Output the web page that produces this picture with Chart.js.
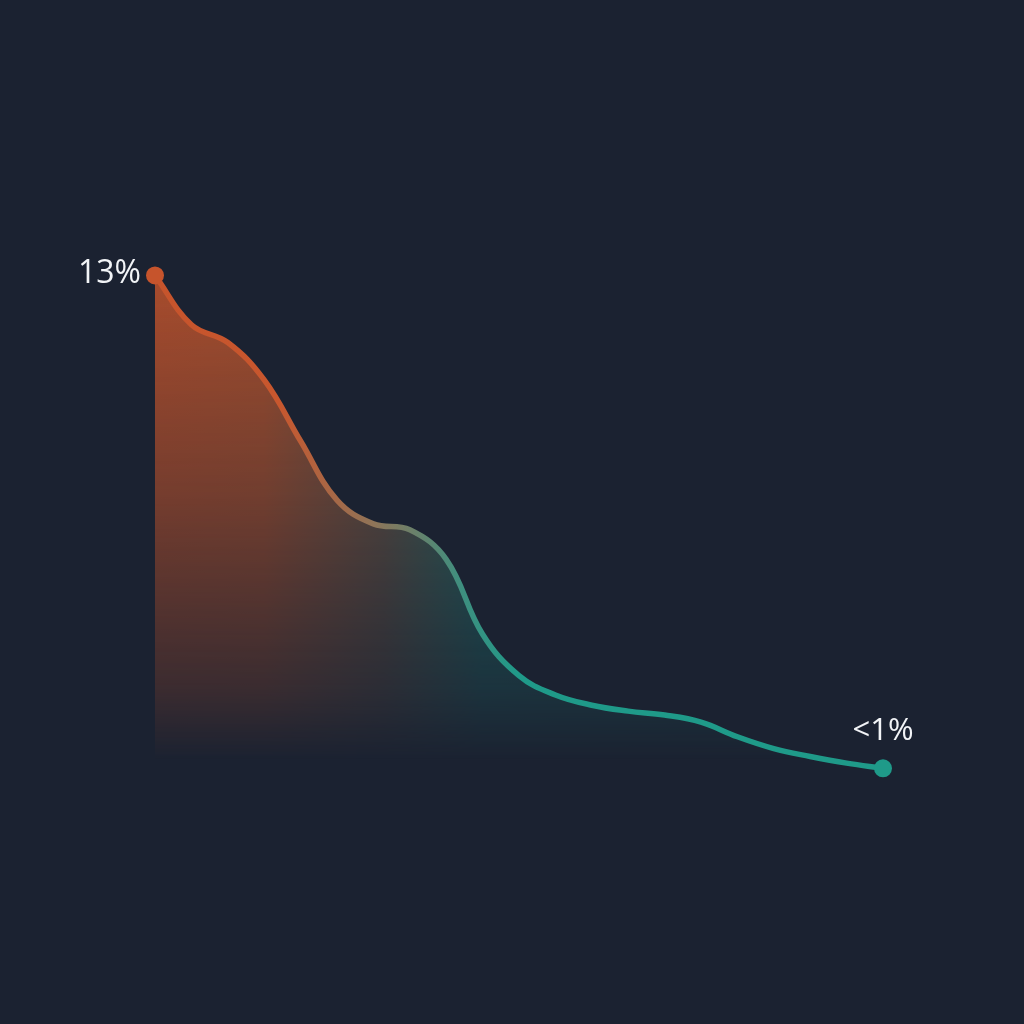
<!DOCTYPE html>
<html>
<head>
<meta charset="utf-8">
<script src="https://cdn.jsdelivr.net/npm/chart.js@4/dist/chart.umd.min.js"></script>
<style>
  html, body { margin: 0; padding: 0; background: #1b2231; }
  #wrap { width: 1024px; height: 1024px; }
</style>
</head>
<body>
<div id="wrap"><canvas id="decline" width="1024" height="1024"></canvas></div>
<script>
// Share over time (%)
const steps = [0, 1, 2, 3, 4, 5, 6, 7, 8, 9, 10, 11, 12, 13, 14, 15, 16, 17, 18, 19, 20];
const shareValues = [13, 11.75, 11.3, 10.35, 8.8, 7.3, 6.7, 6.55, 5.8, 3.9, 2.85, 2.36, 2.1, 1.95, 1.85, 1.67, 1.3, 1.0, 0.8, 0.63, 0.5];
const endLabels = ['13%', '<1%'];

const orange = '#c6542c';
const teal = '#1f9a89';

// fill: horizontal orange -> teal, faded out towards the bottom
function buildFillPattern(ctx) {
    const off = document.createElement('canvas');
    off.width = 1024;
    off.height = 1024;
    const o = off.getContext('2d');
    const h = o.createLinearGradient(155, 0, 700, 0);
    h.addColorStop(0, '#c0532c');
    h.addColorStop(0.2, '#b8552e');
    h.addColorStop(0.42, '#6f5a48');
    h.addColorStop(0.6, '#1f7a72');
    h.addColorStop(1, '#1c6f6a');
    o.fillStyle = h;
    o.fillRect(0, 0, 1024, 1024);
    o.globalCompositeOperation = 'destination-in';
    const v = o.createLinearGradient(0, 280, 0, 760);
    v.addColorStop(0, 'rgba(0,0,0,0.85)');
    v.addColorStop(0.45, 'rgba(0,0,0,0.55)');
    v.addColorStop(0.85, 'rgba(0,0,0,0.2)');
    v.addColorStop(1, 'rgba(0,0,0,0)');
    o.fillStyle = v;
    o.fillRect(0, 0, 1024, 1024);
    return ctx.createPattern(off, 'no-repeat');
}

function buildLineGradient(ctx) {
    const g = ctx.createLinearGradient(155, 0, 883, 0);
    g.addColorStop(0, orange);
    g.addColorStop(0.17, '#c8572e');
    g.addColorStop(0.3, '#8f7458');
    g.addColorStop(0.42, '#3f8f7f');
    g.addColorStop(0.5, teal);
    g.addColorStop(1, teal);
    return g;
}

// draws the two end labels next to the first and last point
const endLabelPlugin = {
    id: 'endLabels',
    afterDatasetsDraw(chart) {
        const ctx = chart.ctx;
        const pts = chart.getDatasetMeta(0).data;
        const first = pts[0];
        const last = pts[pts.length - 1];
        ctx.save();
        ctx.fillStyle = '#f2f4f7';
        ctx.font = '400 32px "Open Sans"';
        ctx.textBaseline = 'middle';
        ctx.textAlign = 'right';
        ctx.fillText(endLabels[0], first.x - 14, first.y - 2);
        ctx.font = '400 31px "Open Sans"';
        ctx.textAlign = 'center';
        ctx.textBaseline = 'alphabetic';
        ctx.fillText(endLabels[1], last.x, last.y - 28);
        ctx.restore();
    }
};

const canvas = document.getElementById('decline');
const ctx = canvas.getContext('2d');

new Chart(ctx, {
    type: 'line',
    data: {
        labels: steps,
        datasets: [{
            data: shareValues,
            borderColor: buildLineGradient(ctx),
            borderWidth: 5.5,
            backgroundColor: buildFillPattern(ctx),
            fill: 'origin',
            tension: 0.4,
            pointRadius: shareValues.map((v, i) => (i === 0 || i === shareValues.length - 1) ? 9 : 0),
            pointBackgroundColor: shareValues.map((v, i) => i === 0 ? orange : teal),
            pointBorderWidth: 0,
            clip: false
        }]
    },
    options: {
        responsive: false,
        animation: false,
        devicePixelRatio: 1,
        layout: { padding: { left: 155, right: 141, top: 236, bottom: 236 } },
        plugins: { legend: { display: false }, tooltip: { enabled: false } },
        scales: {
            x: { display: false, offset: false },
            y: { display: false, min: 0, max: 14 }
        }
    },
    plugins: [endLabelPlugin]
});
</script>
</body>
</html>
